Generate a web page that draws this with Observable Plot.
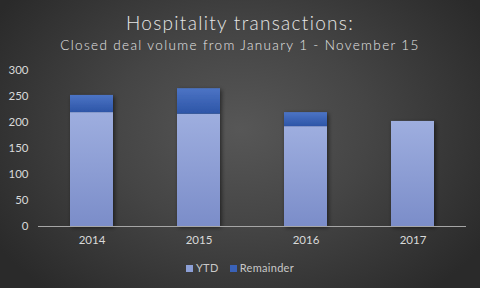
<!DOCTYPE html>
<html>
<head>
<meta charset="utf-8">
<script src="https://cdn.jsdelivr.net/npm/d3@7"></script>
<script src="https://cdn.jsdelivr.net/npm/@observablehq/plot@0.6"></script>
<style>
  html, body { margin: 0; padding: 0; }
  #wrap {
    position: relative; width: 480px; height: 288px; overflow: hidden;
    background: radial-gradient(ellipse 60% 75% at 50% 45%, #575757 0%, #454545 45%, #2a2a2a 100%);
    font-family: Lato, "Open Sans", sans-serif; color: #d9d9d9;
  }
  #title { position: absolute; top: 12px; left: 0; width: 480px; text-align: center;
    font-size: 19px; font-weight: 300; letter-spacing: 1.3px; line-height: 22px; color: #e6e6e6; }
  #subtitle { position: absolute; top: 36px; left: 0; width: 480px; text-align: center;
    font-size: 13.5px; font-weight: 300; letter-spacing: 1.35px; line-height: 18px; color: #e6e6e6; }
  #chart { position: absolute; top: 56px; left: 0; }
  #legend { position: absolute; top: 261px; left: 0; width: 480px; text-align: center;
    font-size: 11px; color: #c8c8c8; letter-spacing: 0.3px; }
  .sw { display: inline-block; width: 7px; height: 7px; margin-right: 3px; vertical-align: 0px; }
  .item { margin: 0 4px; }
</style>
</head>
<body>
<div id="wrap">
  <div id="title">Hospitality transactions:</div>
  <div id="subtitle">Closed deal volume from January 1 - November 15</div>
  <div id="chart"></div>
  <div id="legend">
    <span class="item"><span class="sw" style="background:#8c9fd6"></span>YTD</span>
    <span class="item"><span class="sw" style="background:#3a62b8"></span>Remainder</span>
  </div>
</div>
<script>
const years = ["2014", "2015", "2016", "2017"];
const ytd = [219, 216, 192, 202];
const remainder = [33, 49, 27, 0];
const seriesNames = ["YTD", "Remainder"];
const yTicks = [0, 50, 100, 150, 200, 250, 300];

const data = [];
years.forEach((y, i) => data.push({year: y, series: "YTD", value: ytd[i]}));
years.forEach((y, i) => data.push({year: y, series: "Remainder", value: remainder[i]}));

const chart = Plot.plot({
  width: 480,
  height: 196,
  marginLeft: 38,
  marginRight: 14,
  marginTop: 14,
  marginBottom: 26,
  style: {background: "transparent", color: "#d9d9d9", fontFamily: "Lato, 'Open Sans', sans-serif", fontSize: "11.5px"},
  x: {domain: years, paddingInner: 0.6, paddingOuter: 0.3, label: null, tickSize: 0, tickPadding: 9},
  y: {domain: [0, 300], ticks: yTicks, label: null, tickSize: 0, tickPadding: 10},
  color: {domain: seriesNames, range: ["url(#gYTD)", "url(#gRem)"]},
  marks: [
    Plot.barY(data, {x: "year", y: "value", fill: "series", order: seriesNames, filter: d => d.value > 0}),
    Plot.ruleY([0], {stroke: "#a6a6a6", strokeWidth: 1})
  ]
});

const svg = d3.select(chart);
const defs = svg.insert("defs", ":first-child");
const g1 = defs.append("linearGradient").attr("id", "gYTD").attr("x1", 0).attr("y1", 0).attr("x2", 0).attr("y2", 1);
g1.append("stop").attr("offset", "0%").attr("stop-color", "#9eaedf");
g1.append("stop").attr("offset", "100%").attr("stop-color", "#7b8dc9");
const g2 = defs.append("linearGradient").attr("id", "gRem").attr("x1", 0).attr("y1", 0).attr("x2", 0).attr("y2", 1);
g2.append("stop").attr("offset", "0%").attr("stop-color", "#4c74c5");
g2.append("stop").attr("offset", "100%").attr("stop-color", "#2d55a7");
const f = defs.append("filter").attr("id", "shadow").attr("x", "-20%").attr("y", "-20%").attr("width", "150%").attr("height", "150%");
f.append("feDropShadow").attr("dx", 1.5).attr("dy", 1.5).attr("stdDeviation", 2).attr("flood-color", "#000").attr("flood-opacity", 0.55);
svg.selectAll("g[aria-label='bar']").attr("filter", "url(#shadow)");

document.getElementById("chart").appendChild(chart);
</script>
</body>
</html>
